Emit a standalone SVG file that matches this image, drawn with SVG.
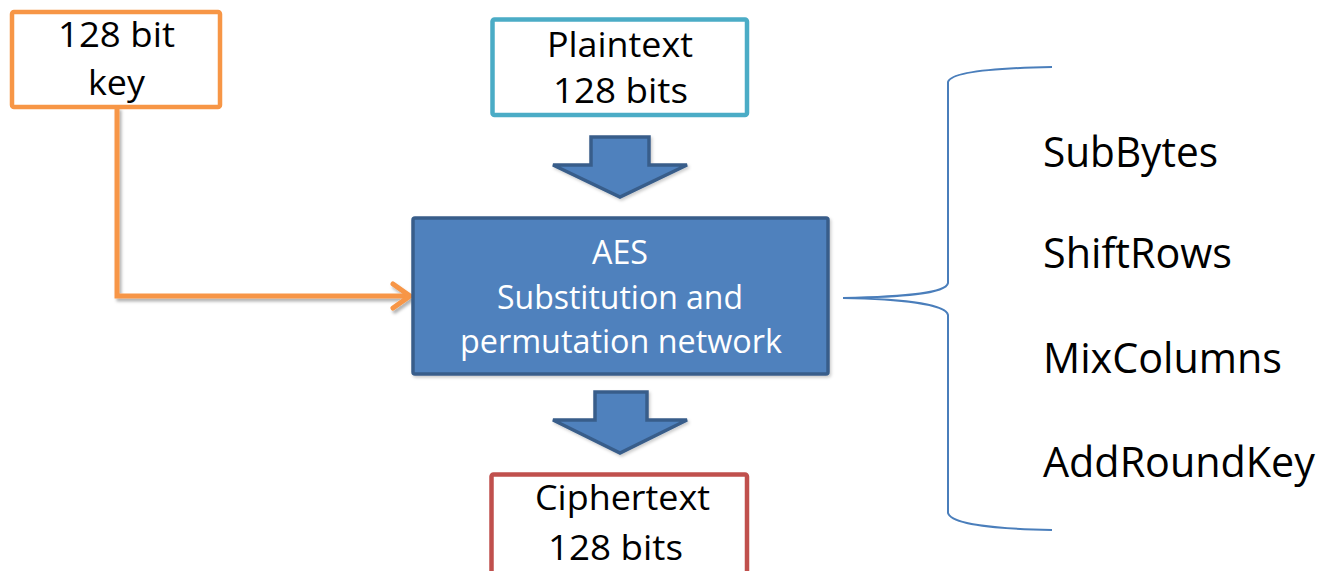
<svg xmlns="http://www.w3.org/2000/svg" width="1322" height="571" viewBox="0 0 1322 571">
  <defs>
    <filter id="shadow" x="-10%" y="-10%" width="130%" height="130%">
      <feDropShadow dx="2" dy="3" stdDeviation="1.6" flood-color="#000" flood-opacity="0.3"/>
    </filter>
    <filter id="softShadow" x="-10%" y="-10%" width="130%" height="130%">
      <feDropShadow dx="1.5" dy="2" stdDeviation="1.5" flood-color="#000" flood-opacity="0.2"/>
    </filter>
  </defs>
  <style>
    .txt { font-family: "Open Sans", "Liberation Sans", sans-serif; fill: #000; }
    .box { fill: #fff; stroke-width: 4.5; }
    .blue { fill: #4F81BD; stroke: #385D8A; stroke-width: 3.5; stroke-linejoin: miter; }
    .white { fill: #fff; }
    .link { fill: none; stroke: #F79646; stroke-width: 5; stroke-linejoin: miter; }
    .brace { fill: none; stroke: #4A7EBB; stroke-width: 2; }
  </style>

  <rect width="1322" height="571" fill="#fff"/>

  <!-- connectors -->
  <g id="connectors">
    <g filter="url(#shadow)">
      <path class="link" d="M117,107 L117,296 L409,296"/>
      <polyline class="link" points="393,284 410,296 393,308" stroke-linecap="round" stroke-linejoin="round"/>
    </g>
    <polygon class="blue" filter="url(#softShadow)" points="591,137 649,137 649,165 687,165 620,197 553,165 591,165"/>
    <polygon class="blue" filter="url(#softShadow)" points="595,392 647,392 647,420 687,420 620,453 553,420 595,420"/>
    <path class="brace" d="M1052,67 C995,68 951,72 948,82 L948,283 C946,294 900,297 843,298 C900,299 946,304 948,315 L948,513 C951,524 995,529 1052,530"/>
  </g>

  <!-- key input -->
  <g id="key">
    <rect class="box" x="12" y="12" width="208" height="95" rx="2" stroke="#F79646"/>
    <text class="txt" x="58" y="47" font-size="35" textLength="117" lengthAdjust="spacingAndGlyphs">128 bit</text>
    <text class="txt" x="88" y="95" font-size="35" textLength="57" lengthAdjust="spacingAndGlyphs">key</text>
  </g>

  <!-- plaintext input -->
  <g id="plaintext">
    <rect class="box" x="492.5" y="19.5" width="254.5" height="95.5" rx="2" stroke="#4BACC6"/>
    <text class="txt" x="547" y="57" font-size="35" textLength="146" lengthAdjust="spacingAndGlyphs">Plaintext</text>
    <text class="txt" x="553" y="103" font-size="35" textLength="135" lengthAdjust="spacingAndGlyphs">128 bits</text>
  </g>

  <!-- cipher block -->
  <g id="aes">
    <rect class="blue" filter="url(#softShadow)" x="413" y="218" width="415" height="156" rx="2"/>
    <text class="txt white" x="592" y="264" font-size="33.5" textLength="56" lengthAdjust="spacingAndGlyphs">AES</text>
    <text class="txt white" x="497" y="309" font-size="33.5" textLength="246" lengthAdjust="spacingAndGlyphs">Substitution and</text>
    <text class="txt white" x="460" y="353" font-size="33.5" textLength="322" lengthAdjust="spacingAndGlyphs">permutation network</text>
  </g>

  <!-- ciphertext output -->
  <g id="ciphertext">
    <rect class="box" x="491.5" y="474.5" width="255.5" height="110" rx="2" stroke="#C0504D"/>
    <text class="txt" x="535" y="510" font-size="35" textLength="175" lengthAdjust="spacingAndGlyphs">Ciphertext</text>
    <text class="txt" x="548" y="560" font-size="35" textLength="135" lengthAdjust="spacingAndGlyphs">128 bits</text>
  </g>

  <!-- round steps -->
  <g id="steps">
    <text class="txt" x="1043" y="167" font-size="41.5" textLength="175" lengthAdjust="spacingAndGlyphs">SubBytes</text>
    <text class="txt" x="1043" y="268" font-size="41.5" textLength="189" lengthAdjust="spacingAndGlyphs">ShiftRows</text>
    <text class="txt" x="1043" y="373" font-size="41.5" textLength="239" lengthAdjust="spacingAndGlyphs">MixColumns</text>
    <text class="txt" x="1043" y="477" font-size="41.5" textLength="272" lengthAdjust="spacingAndGlyphs">AddRoundKey</text>
  </g>
</svg>
